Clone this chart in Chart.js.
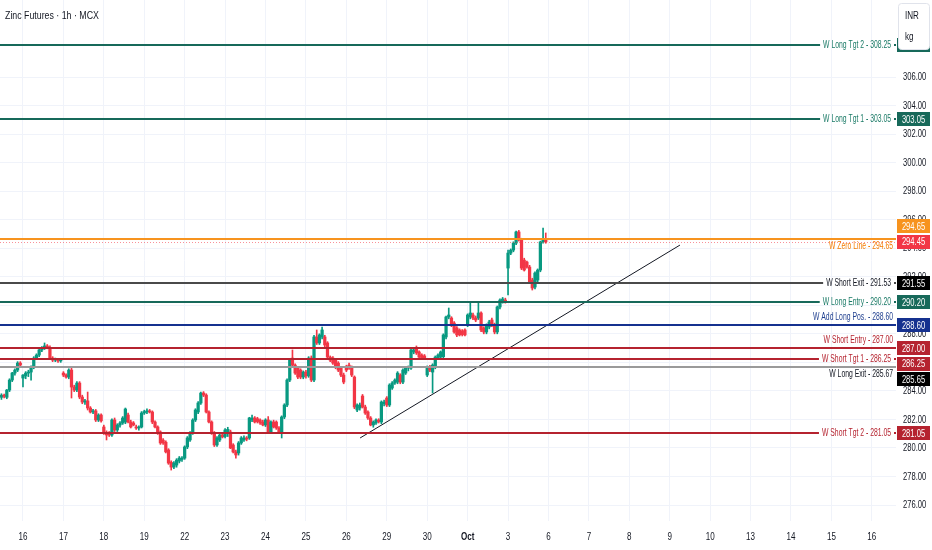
<!DOCTYPE html>
<html>
<head>
<meta charset="utf-8">
<title>Zinc Futures 1h MCX</title>
<script src="https://cdn.jsdelivr.net/npm/chart.js@4.4.1/dist/chart.umd.min.js"></script>
<style>
  html, body { margin: 0; padding: 0; background: #ffffff; }
  #wrap { width: 932px; height: 550px; position: relative; }
</style>
</head>
<body>
<div id="wrap"><canvas id="zincChart"></canvas></div>
<script>
const FONT = '"Liberation Sans", Arial, sans-serif';

// hourly candles [open, high, low, close], tail of 15 Sep up to 3 Oct
const candles = [
    // 15 Sep (partial)
    [283.55, 283.80, 283.40, 283.70], [283.70, 283.78, 283.50, 283.62], [283.55, 284.10, 283.45, 284.06],
    [284.06, 284.85, 283.95, 284.76], [284.76, 285.30, 284.65, 285.25], [285.25, 285.55, 285.10, 285.46],
    [285.46, 286.05, 285.35, 285.95], [285.95, 286.05, 285.75, 285.81],
    // 16 Sep
    [284.90, 285.15, 284.27, 285.11], [285.05, 285.35, 284.85, 285.25], [285.25, 285.45, 285.00, 285.32],
    [285.32, 285.75, 284.76, 285.67], [285.67, 286.40, 285.55, 286.30], [286.30, 286.60, 286.20, 286.51],
    [286.51, 286.95, 286.40, 286.87], [286.87, 287.10, 286.75, 287.01], [287.01, 287.36, 286.90, 287.15],
    [287.15, 287.25, 286.95, 287.05], [287.05, 287.15, 286.20, 286.30], [286.30, 286.40, 286.05, 286.16],
    [286.16, 286.30, 286.05, 286.20], [286.20, 286.25, 286.00, 286.10], [286.10, 286.20, 286.00, 286.12],
    // 17 Sep
    [285.25, 285.35, 285.00, 285.11], [285.11, 285.20, 284.90, 284.97], [284.97, 285.55, 284.85, 285.46],
    [285.46, 285.60, 283.50, 284.27], [284.27, 284.40, 283.95, 284.06], [284.06, 284.65, 283.95, 284.55],
    [284.55, 284.65, 283.45, 283.57], [283.57, 283.70, 283.10, 283.22], [283.22, 283.40, 283.05, 283.30],
    [283.30, 283.92, 282.66, 282.80], [282.80, 282.90, 282.45, 282.52], [282.52, 282.70, 282.40, 282.60],
    [282.60, 282.70, 281.85, 281.96], [281.96, 282.40, 281.85, 282.31], [282.31, 282.40, 281.80, 281.90],
    // 18 Sep
    [281.47, 281.60, 280.95, 281.05], [281.10, 281.20, 280.56, 280.91], [281.05, 281.15, 280.80, 280.90],
    [280.91, 282.05, 280.80, 281.96], [281.96, 282.10, 281.15, 281.26], [281.26, 281.70, 281.15, 281.61],
    [281.61, 281.85, 281.45, 281.75], [281.75, 282.20, 281.65, 282.10], [281.82, 282.80, 281.70, 282.73],
    [282.31, 282.45, 281.75, 281.82], [281.82, 281.95, 281.40, 281.47], [281.75, 281.85, 281.55, 281.61],
    [281.47, 281.60, 281.30, 281.40], [281.40, 281.55, 281.25, 281.47], [281.47, 282.55, 281.40, 282.45],
    // 19 Sep
    [282.45, 282.65, 282.35, 282.55], [282.52, 282.75, 282.40, 282.60], [282.60, 282.70, 282.45, 282.52],
    [282.52, 282.60, 281.70, 281.82], [281.82, 281.90, 281.40, 281.47], [281.47, 281.55, 280.95, 281.05],
    [281.12, 281.20, 280.25, 280.35], [280.55, 280.65, 280.25, 280.35], [280.40, 280.50, 279.65, 279.72],
    [279.86, 279.95, 278.85, 278.94], [279.00, 279.10, 278.45, 278.66], [278.66, 279.05, 278.55, 278.94],
    [278.80, 279.25, 278.65, 279.15], [279.08, 279.40, 278.95, 279.29], [279.20, 279.40, 279.05, 279.29],
    // 22 Sep
    [279.29, 280.15, 279.20, 280.07], [280.07, 280.80, 279.95, 280.70], [280.56, 281.15, 280.45, 281.05],
    [281.05, 282.05, 280.95, 281.96], [281.96, 282.75, 281.85, 282.66], [282.52, 283.25, 282.40, 283.15],
    [283.15, 283.92, 283.05, 283.85], [283.85, 283.95, 283.60, 283.71], [283.71, 283.80, 282.45, 282.52],
    [282.52, 282.60, 281.75, 281.82], [281.82, 281.90, 280.95, 281.05], [281.05, 281.15, 280.10, 280.21],
    [280.21, 280.80, 280.10, 280.70], [280.56, 281.00, 280.45, 280.91], [280.91, 281.00, 280.70, 280.77],
    // 23 Sep
    [280.80, 281.35, 280.70, 281.26], [281.10, 281.45, 280.80, 281.30], [281.12, 281.25, 279.95, 280.00],
    [280.21, 280.30, 279.65, 279.72], [279.72, 279.85, 279.29, 279.51], [279.65, 280.45, 279.50, 280.35],
    [280.35, 280.80, 280.25, 280.70], [280.56, 280.85, 280.45, 280.70], [280.70, 280.80, 280.50, 280.62],
    [280.70, 282.15, 280.60, 282.10], [281.96, 282.31, 281.85, 282.10], [282.10, 282.20, 281.75, 281.82],
    [282.05, 282.15, 281.75, 281.85], [281.96, 282.05, 281.65, 281.75], [281.82, 281.95, 281.55, 281.61],
    // 24 Sep
    [281.61, 282.05, 281.50, 281.96], [281.96, 282.20, 281.05, 281.12], [281.12, 281.90, 281.00, 281.82],
    [281.82, 281.95, 281.40, 281.47], [281.82, 281.90, 281.30, 281.40], [281.40, 281.50, 281.05, 281.12],
    [281.12, 282.25, 280.70, 282.17], [282.17, 283.10, 282.05, 283.01], [283.01, 284.85, 282.90, 284.76],
    [284.76, 286.25, 284.65, 286.16], [286.30, 286.87, 285.70, 285.81], [285.81, 285.90, 285.15, 285.25],
    [285.60, 285.70, 284.85, 284.97], [285.46, 285.55, 284.85, 284.97], [284.97, 285.40, 284.85, 285.32],
    // 25 Sep
    [285.32, 285.45, 284.90, 285.05], [285.05, 286.40, 284.95, 286.30], [286.30, 286.45, 284.65, 284.76],
    [284.76, 287.90, 284.65, 287.78], [287.78, 288.27, 287.25, 287.36], [287.36, 288.00, 287.25, 287.92],
    [287.78, 288.48, 287.65, 288.27], [287.78, 287.90, 287.10, 287.22], [287.36, 287.45, 286.25, 286.37],
    [286.37, 286.45, 286.05, 286.16], [286.30, 286.40, 285.85, 285.95], [286.16, 286.25, 285.55, 285.67],
    [285.95, 286.05, 285.35, 285.46], [285.60, 285.70, 285.00, 285.11], [285.11, 285.25, 284.50, 284.62],
    // 26 Sep
    [285.67, 285.80, 285.35, 285.46], [285.81, 285.95, 285.50, 285.60], [285.67, 285.75, 285.00, 285.11],
    [284.97, 285.05, 282.75, 282.87], [282.66, 283.10, 282.55, 283.01], [282.80, 283.15, 282.65, 283.01],
    [283.64, 283.75, 282.80, 282.87], [282.87, 283.00, 282.35, 282.45], [282.52, 282.60, 282.00, 282.10],
    [282.10, 282.20, 281.55, 281.61], [281.61, 281.90, 281.45, 281.82], [281.75, 282.05, 281.65, 281.96],
    [281.96, 282.05, 281.75, 281.85], [281.82, 283.30, 281.70, 283.22], [283.10, 283.35, 282.95, 283.22],
    // 29 Sep
    [283.50, 283.60, 282.90, 283.01], [283.01, 284.50, 282.90, 284.41], [284.20, 284.65, 284.10, 284.55],
    [284.55, 284.85, 284.45, 284.76], [284.62, 285.35, 284.50, 285.25], [285.11, 285.20, 284.50, 284.62],
    [284.62, 285.55, 284.50, 285.46], [285.25, 285.70, 285.15, 285.60], [285.60, 285.75, 285.40, 285.67],
    [285.60, 286.95, 285.50, 286.87], [286.73, 287.00, 286.60, 286.87], [287.01, 287.15, 286.55, 286.66],
    [286.73, 286.80, 286.25, 286.37], [286.51, 286.60, 286.20, 286.30], [286.45, 286.55, 286.20, 286.30],
    // 30 Sep
    [285.11, 285.75, 285.00, 285.67], [285.67, 285.80, 285.35, 285.46], [285.32, 285.90, 283.85, 285.81],
    [285.67, 286.45, 285.55, 286.37], [286.30, 286.60, 286.20, 286.51], [286.37, 286.80, 286.25, 286.73],
    [286.40, 288.00, 286.30, 287.92], [287.78, 289.25, 287.65, 289.18], [289.18, 289.81, 289.05, 289.32],
    [289.11, 289.20, 288.50, 288.62], [288.76, 288.85, 288.05, 288.13], [288.41, 288.50, 287.80, 287.92],
    [288.27, 288.35, 287.85, 287.92], [288.20, 288.30, 287.85, 287.95], [288.27, 288.35, 287.85, 287.92],
    // 1 Oct
    [288.62, 289.40, 288.50, 289.32], [289.18, 290.16, 289.05, 289.46], [289.32, 289.45, 289.00, 289.11],
    [289.11, 289.25, 288.85, 288.97], [289.11, 290.16, 289.00, 289.46], [289.46, 289.55, 288.15, 288.27],
    [288.41, 288.50, 288.00, 288.13], [288.13, 288.70, 288.00, 288.62], [288.48, 288.95, 288.35, 288.83],
    [288.97, 289.10, 288.50, 288.62], [288.62, 288.75, 288.00, 288.13], [288.13, 289.95, 288.00, 289.88],
    [289.88, 290.45, 289.75, 290.37], [290.30, 290.55, 290.15, 290.44], [290.37, 290.50, 290.15, 290.25],
    // 3 Oct
    [292.61, 293.87, 290.72, 293.66], [293.66, 293.95, 293.55, 293.87], [293.87, 294.45, 293.75, 294.36],
    [294.36, 295.20, 294.25, 295.14], [295.14, 295.25, 294.50, 294.58], [294.58, 294.70, 292.50, 292.61],
    [293.17, 293.30, 292.40, 292.47], [293.03, 293.10, 292.60, 292.68], [292.68, 292.80, 291.55, 291.63],
    [291.77, 291.90, 291.07, 291.21], [291.28, 292.35, 291.15, 292.26], [291.77, 292.55, 291.65, 292.47],
    [292.47, 294.50, 292.35, 294.44], [294.44, 295.42, 294.35, 294.58], [294.62, 295.07, 294.35, 294.45]
];

// first bar of each session on the time axis and its label
const dayStarts = [8, 23, 38, 53, 68, 83, 98, 113, 128, 143, 158, 173, 188, 203, 218, 233, 248, 263, 278, 293, 308, 323];
const dayLabels = ['16', '17', '18', '19', '22', '23', '24', '25', '26', '29', '30', 'Oct', '3', '6', '7', '8', '9', '10', '13', '14', '15', '16'];

const priceTicks = [276, 278, 280, 282, 284, 286, 288, 290, 292, 294, 296, 298, 300, 302, 304, 306];

// horizontal levels drawn on the chart
const levelNames = ['W Long Tgt 2', 'W Long Tgt 1', 'W Zero Line', 'W Short Exit', 'W Long Entry',
    'W Add Long Pos.', 'W Short Entry', 'W Short Tgt 1', 'W Long Exit', 'W Short Tgt 2'];
const levelPrices = [308.25, 303.05, 294.65, 291.53, 290.20, 288.60, 287.00, 286.25, 285.67, 281.05];
const levelTags = [308.25, 303.05, 294.65, 291.55, 290.20, 288.60, 287.00, 286.25, 285.65, 281.05];

// rising trend line: bar index and price at both ends
const trendBars = [133.1, 251.8];
const trendPrices = [280.70, 294.22];

const UP = '#089981';
const DOWN = '#f23645';
const TEAL = '#17695a';
const RED = '#b5232f';
const INK = '#131722';

const levelStyles = [
    { line: TEAL, text: '#1a7a66', tag: TEAL, place: 'inline' },
    { line: TEAL, text: '#1a7a66', tag: TEAL, place: 'inline' },
    { line: '#f7931e', text: '#f57c00', tag: '#f7931e', place: 'below' },
    { line: '#4a4a4a', text: INK, tag: '#000000', place: 'inline' },
    { line: TEAL, text: '#1a7a66', tag: TEAL, place: 'inline' },
    { line: '#15318f', text: '#1f3f8f', tag: '#15318f', place: 'above' },
    { line: RED, text: RED, tag: RED, place: 'above' },
    { line: RED, text: RED, tag: RED, place: 'inline' },
    { line: '#9a9a9a', text: INK, tag: '#000000', place: 'below' },
    { line: RED, text: RED, tag: RED, place: 'inline' }
];

const candleColor = ctx => {
    const c = candles[ctx.dataIndex];
    return c && c[3] < c[0] ? DOWN : UP;
};

// the chart's text is a condensed face: squeeze Liberation Sans horizontally
function squeezed(ctx, text, x, y, align, sx) {
    ctx.save();
    ctx.translate(x, y);
    ctx.scale(sx, 1);
    ctx.textAlign = align;
    ctx.fillText(text, 0, 0);
    ctx.restore();
    return ctx.measureText(text).width * sx;
}

const overlay = {
    id: 'overlay',
    afterDraw(chart) {
        const { ctx, chartArea: area, scales: { x, y } } = chart;
        const W = chart.width;
        ctx.save();
        ctx.textBaseline = 'middle';

        // axis labels
        ctx.fillStyle = INK;
        ctx.font = `11.5px ${FONT}`;
        priceTicks.forEach(v => squeezed(ctx, v.toFixed(2), area.right + 7, y.getPixelForValue(v), 'left', 0.66));
        dayStarts.forEach((v, i) => {
            ctx.font = `${dayLabels[i] === 'Oct' ? 'bold ' : ''}11.5px ${FONT}`;
            squeezed(ctx, dayLabels[i], x.getPixelForValue(v), area.bottom + 16, 'center', 0.7);
        });

        // level lines with their captions
        ctx.save();
        ctx.beginPath();
        ctx.rect(area.left, area.top, area.width, area.height);
        ctx.clip();
        ctx.font = `10.5px ${FONT}`;
        const sxL = 0.65;
        levelPrices.forEach((p, k) => {
            const st = levelStyles[k];
            const py = Math.round(y.getPixelForValue(p));
            const text = `${levelNames[k]} - ${p.toFixed(2)}`;
            const w = ctx.measureText(text).width * sxL;
            ctx.strokeStyle = st.line;
            ctx.lineWidth = 2;
            ctx.beginPath();
            ctx.fillStyle = st.text;
            if (st.place === 'inline') {
                const right = area.right - 5;
                ctx.moveTo(area.left, py); ctx.lineTo(right - w - 3, py);
                ctx.moveTo(right + 3, py); ctx.lineTo(area.right, py);
                ctx.stroke();
                squeezed(ctx, text, right, py + 0.5, 'right', sxL);
            } else {
                ctx.moveTo(area.left, py); ctx.lineTo(area.right, py);
                ctx.stroke();
                squeezed(ctx, text, area.right - 3, st.place === 'above' ? py - 7.5 : py + 7.5, 'right', sxL);
            }
        });

        // last price dotted line
        const last = candles[candles.length - 1];
        const lastColor = last[3] < last[0] ? DOWN : UP;
        const ly = Math.round(y.getPixelForValue(last[3])) + 0.5;
        ctx.strokeStyle = 'rgba(242, 54, 69, 0.55)';
        ctx.lineWidth = 1;
        ctx.setLineDash([1, 2]);
        ctx.beginPath();
        ctx.moveTo(area.left, ly); ctx.lineTo(area.right, ly);
        ctx.stroke();
        ctx.setLineDash([]);
        ctx.restore();

        // price tags on the axis, pushed apart so they do not overlap
        const h = 14, gap = 15.5;
        const cur = { v: last[3], y: y.getPixelForValue(last[3]), bg: lastColor };
        const tags = levelTags.map((v, k) => ({ v, y: y.getPixelForValue(v), bg: levelStyles[k].tag }));
        const above = tags.filter(t => t.y <= cur.y).sort((a, b) => b.y - a.y);
        const below = tags.filter(t => t.y > cur.y).sort((a, b) => a.y - b.y);
        let prev = cur.y;
        above.forEach(t => { t.y = Math.min(t.y, prev - gap); prev = t.y; });
        prev = cur.y;
        below.forEach(t => { t.y = Math.max(t.y, prev + gap); prev = t.y; });
        const bx = area.right + 1, bw = W - 2 - bx;
        ctx.font = `11.5px ${FONT}`;
        [...tags, cur].forEach(t => {
            ctx.fillStyle = t.bg;
            ctx.fillRect(bx, Math.round(t.y - h / 2), bw, h);
            ctx.fillStyle = '#ffffff';
            squeezed(ctx, t.v.toFixed(2), bx + bw / 2, t.y + 0.5, 'center', 0.66);
        });

        // currency / unit panel
        ctx.fillStyle = '#ffffff';
        ctx.strokeStyle = '#e0e3eb';
        ctx.lineWidth = 1;
        ctx.beginPath();
        ctx.roundRect(898.5, 3.5, 31, 46, 3);
        ctx.fill();
        ctx.stroke();
        ctx.fillStyle = INK;
        squeezed(ctx, 'INR', 905, 16, 'left', 0.7);
        squeezed(ctx, 'kg', 905, 37, 'left', 0.7);

        // title
        ctx.font = `11px ${FONT}`;
        squeezed(ctx, 'Zinc Futures \u00b7 1h \u00b7 MCX', 5, 16, 'left', 0.8);
        ctx.restore();
    }
};

new Chart(document.getElementById('zincChart'), {
    type: 'bar',
    data: {
        datasets: [
            {
                type: 'line',
                data: trendBars.map((b, i) => ({ x: b, y: trendPrices[i] })),
                borderColor: INK,
                borderWidth: 1,
                pointRadius: 0,
                order: 0
            },
            {
                data: candles.map((c, i) => ({ x: i, y: [c[0], c[3]] })),
                backgroundColor: candleColor,
                barThickness: 2.6,
                minBarLength: 1,
                grouped: false,
                order: 1
            },
            {
                data: candles.map((c, i) => ({ x: i, y: [c[2], c[1]] })),
                backgroundColor: candleColor,
                barThickness: 1,
                grouped: false,
                order: 2
            }
        ]
    },
    options: {
        responsive: true,
        maintainAspectRatio: false,
        animation: false,
        layout: { padding: 0 },
        plugins: { legend: { display: false }, tooltip: { enabled: false } },
        scales: {
            x: {
                type: 'linear',
                min: -0.53,
                max: 331.97,
                offset: false,
                grid: { color: '#f0f3fa', drawTicks: false, offset: false },
                border: { display: false },
                afterBuildTicks: axis => { axis.ticks = dayStarts.map(v => ({ value: v })); },
                afterFit: axis => { axis.height = 29; },
                ticks: { display: false }
            },
            y: {
                type: 'linear',
                position: 'right',
                min: 274.88,
                max: 311.40,
                grid: { color: '#f0f3fa', drawTicks: false },
                border: { display: false },
                afterBuildTicks: axis => { axis.ticks = priceTicks.map(v => ({ value: v })); },
                afterFit: axis => { axis.width = 36; },
                ticks: { display: false }
            }
        }
    },
    plugins: [overlay]
});
</script>
</body>
</html>
